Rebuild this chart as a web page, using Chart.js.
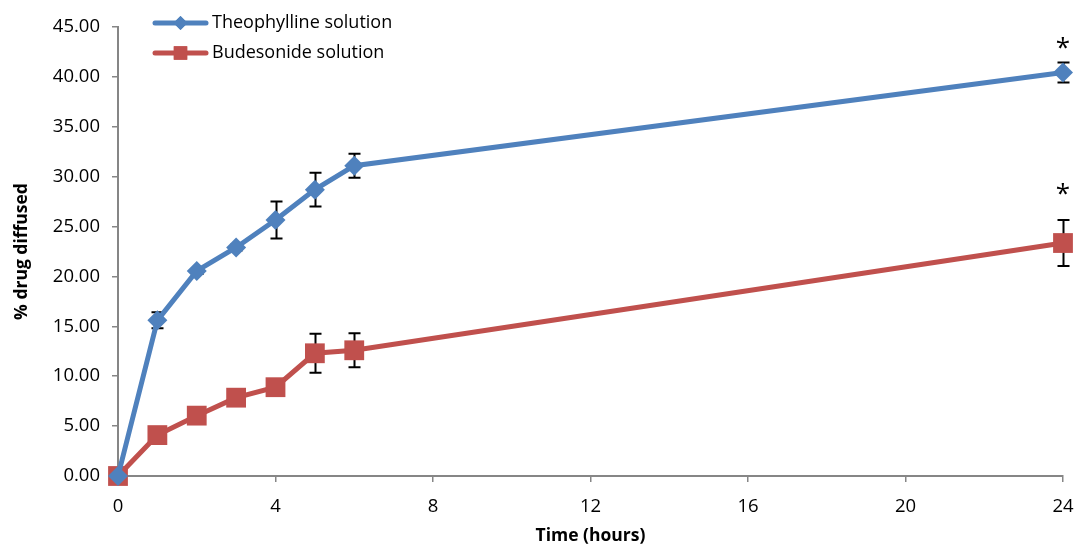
<!DOCTYPE html>
<html>
<head>
<meta charset="utf-8">
<script src="https://cdn.jsdelivr.net/npm/chart.js@4/dist/chart.umd.min.js"></script>
<style>
  html, body { margin: 0; padding: 0; background: #fff; }
  #wrap { width: 1078px; height: 547px; position: relative; }
</style>
</head>
<body>
<div id="wrap"><canvas id="c" width="1078" height="547"></canvas></div>
<script>
// Sampling times (hours) and mean % drug diffused with standard deviations
const hours = [0, 1, 2, 3, 4, 5, 6, 24];
const theophylline = [0, 15.6, 20.55, 22.9, 25.65, 28.7, 31.1, 40.45];
const theophyllineSD = [0, 0.8, 0.3, 0.3, 1.85, 1.7, 1.2, 1.0];
const budesonide = [0, 4.1, 6.05, 7.85, 8.9, 12.3, 12.6, 23.35];
const budesonideSD = [0, 0.3, 0.3, 0.3, 0.3, 1.95, 1.7, 2.3];
const seriesNames = ['Theophylline solution', 'Budesonide solution'];
// Significance markers: [hour, height on the y scale]
const significance = [[24, 43.4], [24, 28.85]];
const xTicks = [0, 4, 8, 12, 16, 20, 24];

const BLUE = '#4F81BD';
const RED = '#C0504D';
const AXIS = '#868686';
const FONT = "'Open Sans', sans-serif";

function pts(ys) { return hours.map((h, i) => ({ x: h, y: ys[i] })); }

const errorBars = {
  id: 'errorBars',
  beforeDatasetsDraw(chart) {
    const ctx = chart.ctx;
    const ys = chart.scales.y;
    const sds = [theophyllineSD, budesonideSD];
    ctx.save();
    ctx.strokeStyle = '#000';
    ctx.lineWidth = 2;
    chart.data.datasets.forEach((ds, di) => {
      const meta = chart.getDatasetMeta(di);
      meta.data.forEach((pt, i) => {
        const v = ds.data[i].y, sd = sds[di][i];
        if (!sd) return;
        const top = ys.getPixelForValue(v + sd);
        const bot = ys.getPixelForValue(v - sd);
        const x = Math.round(pt.x) + 0.5;
        ctx.beginPath();
        ctx.moveTo(x, top); ctx.lineTo(x, bot);
        ctx.moveTo(x - 6, top); ctx.lineTo(x + 6, top);
        ctx.moveTo(x - 6, bot); ctx.lineTo(x + 6, bot);
        ctx.stroke();
      });
    });
    ctx.restore();
  },
  afterDatasetsDraw(chart) {
    const ctx = chart.ctx;
    const xs = chart.scales.x, ys = chart.scales.y;
    ctx.save();
    ctx.fillStyle = '#000';
    ctx.font = "26px " + FONT;
    ctx.textAlign = 'center';
    ctx.textBaseline = 'middle';
    significance.forEach(([h, v]) => {
      ctx.fillText('*', xs.getPixelForValue(h), ys.getPixelForValue(v) + 6);
    });
    // legend
    const items = [
      { color: BLUE, style: 'rectRot', r: 7, y: 23 },
      { color: RED, style: 'rect', r: 9.5, y: 53 }
    ];
    ctx.font = "18px " + FONT;
    ctx.textAlign = 'left';
    items.forEach((it, i) => {
      ctx.strokeStyle = it.color;
      ctx.lineWidth = 5;
      ctx.lineCap = 'round';
      ctx.beginPath();
      ctx.moveTo(155, it.y); ctx.lineTo(206, it.y);
      ctx.stroke();
      ctx.fillStyle = it.color;
      Chart.helpers.drawPoint(ctx, { pointStyle: it.style, radius: it.r, borderWidth: 0, rotation: 0 }, 180.5, it.y);
      ctx.fill();
      ctx.fillStyle = '#000';
      ctx.fillText(seriesNames[i], 212, it.y);
    });
    ctx.restore();
  }
};

new Chart(document.getElementById('c'), {
  type: 'line',
  data: {
    datasets: [
      {
        label: seriesNames[0], data: pts(theophylline),
        borderColor: BLUE, backgroundColor: BLUE, borderWidth: 5,
        pointStyle: 'rectRot', pointRadius: 10, pointHoverRadius: 10,
        pointBorderWidth: 0, tension: 0, clip: false
      },
      {
        label: seriesNames[1], data: pts(budesonide),
        borderColor: RED, backgroundColor: RED, borderWidth: 5,
        pointStyle: 'rect', pointRadius: 14, pointHoverRadius: 14,
        pointBorderWidth: 0, tension: 0, clip: false
      }
    ]
  },
  options: {
    responsive: false,
    animation: false,
    events: [],
    layout: { padding: { left: 0, top: 27, right: 15, bottom: 0 } },
    plugins: { legend: { display: false }, tooltip: { enabled: false } },
    scales: {
      x: {
        type: 'linear', min: 0, max: 24,
        afterFit(s) { s.height = 71; s.paddingLeft = 0; s.paddingRight = 0; },
        afterBuildTicks(s) { s.ticks = xTicks.map(v => ({ value: v })); },
        grid: { drawOnChartArea: false, drawTicks: true, tickLength: 6, color: AXIS, lineWidth: 1.5 },
        border: { display: true, color: AXIS, width: 2 },
        ticks: { color: '#000', font: { family: FONT, size: 18.5 }, padding: 14 },
        title: { display: true, text: 'Time (hours)', color: '#000', font: { family: FONT, size: 17.5, weight: 'bold' }, padding: { top: 0, bottom: 0 } }
      },
      y: {
        min: 0, max: 45,
        afterFit(s) { s.width = 118; s.paddingTop = 0; s.paddingBottom = 0; },
        grid: { drawOnChartArea: false, drawTicks: true, tickLength: 6, color: AXIS, lineWidth: 1.5 },
        border: { display: true, color: AXIS, width: 2 },
        ticks: { stepSize: 5, color: '#000', font: { family: FONT, size: 18.5 }, padding: 12,
                 callback: v => v.toFixed(2) },
        title: { display: true, text: '% drug diffused', color: '#000', font: { family: FONT, size: 17.5, weight: 'bold' }, padding: { top: 12, bottom: 0 } }
      }
    }
  },
  plugins: [errorBars]
});
</script>
</body>
</html>
